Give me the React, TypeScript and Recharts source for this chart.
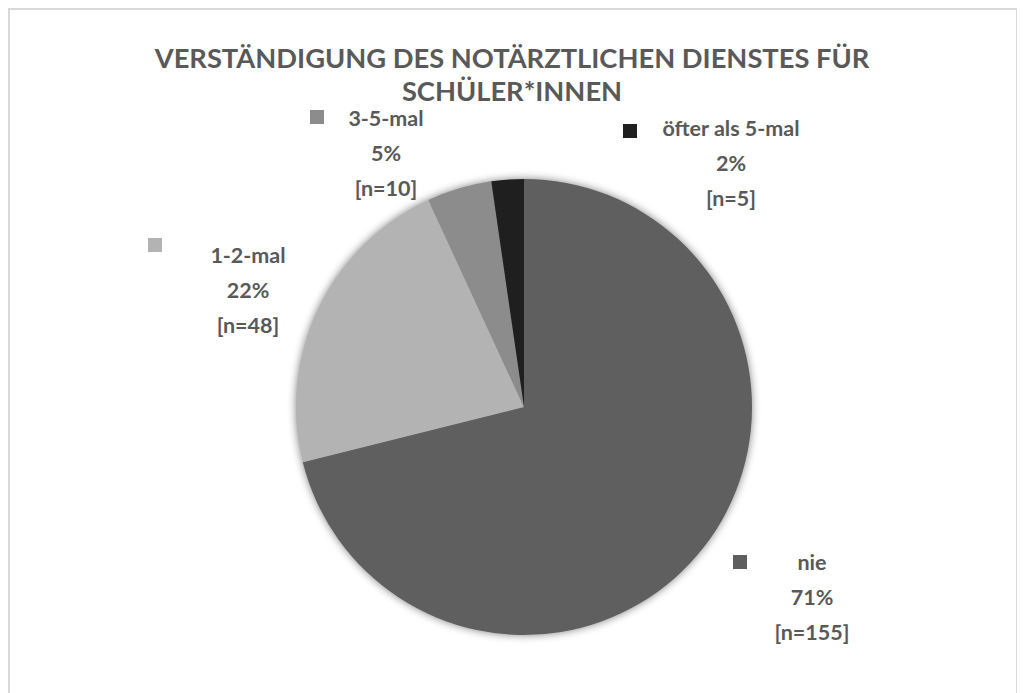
import React from "react";
import { PieChart, Pie, Cell } from "recharts";

const categories = ["nie", "1-2-mal", "3-5-mal", "öfter als 5-mal"];
const counts = [155, 48, 10, 5];
const percents = ["71%", "22%", "5%", "2%"];
const colors = ["#5f5f5f", "#b3b3b3", "#8c8c8c", "#1f1f1f"];
const titleLines = ["VERSTÄNDIGUNG DES NOTÄRZTLICHEN DIENSTES FÜR", "SCHÜLER*INNEN"];

const data = categories.map((name, i) => ({ name, value: counts[i], pct: percents[i] }));
const backing = [{ name: "all", value: counts.reduce((a, b) => a + b, 0) }];

// label layout (first-line centre relative to pie centre, legend key relative to first line)
const labelLayout = [
  { dx: 288, dy: 155, kx: -72, ky: 0 },
  { dx: -276, dy: -152, kx: -93, ky: -10 },
  { dx: -138, dy: -289, kx: -69, ky: -1 },
  { dx: 207, dy: -279, kx: -101, ky: 3 },
];

const W = 1010;
const H = 700;
const FONT = "Lato, 'Open Sans', sans-serif";
const TXT = "#595959";

const renderLabel = (props: any) => {
  const { cx, cy, index } = props;
  const o = labelLayout[index];
  const x = cx + o.dx;
  const y = cy + o.dy;
  const d = data[index];
  const lh = 35;
  return (
    <g key={"lbl" + index}>
      <rect x={x + o.kx - 7} y={y + o.ky - 7} width={14} height={14} fill={colors[index]} />
      <text x={x} y={y} textAnchor="middle" fontFamily={FONT} fontWeight={700} fontSize={21.5} fill={TXT}>
        <tspan x={x} dy={7.5}>{d.name}</tspan>
        <tspan x={x} dy={lh}>{d.pct}</tspan>
        <tspan x={x} dy={lh}>{`[n=${d.value}]`}</tspan>
      </text>
    </g>
  );
};

export default function App() {
  const cw = W - 4;
  return (
    <div style={{ width: W, height: H, border: "2px solid #d9d9d9", boxSizing: "border-box", position: "relative", background: "#fff" }}>
      <div style={{ position: "absolute", left: 0, top: 0 }}>
        <PieChart width={cw} height={H - 4} margin={{ top: 0, right: 0, bottom: 0, left: 0 }}>
          <defs>
            <filter id="glow" x="-20%" y="-20%" width="140%" height="140%">
              <feGaussianBlur in="SourceAlpha" stdDeviation="4" />
              <feComponentTransfer>
                <feFuncA type="linear" slope="0.5" />
              </feComponentTransfer>
            </filter>
          </defs>
          <text x={cw / 2 - 1} y={48} textAnchor="middle" fontFamily={FONT} fontWeight={700} fontSize={27.3} fill={TXT}>
            <tspan x={cw / 2 - 1} dy={9.5}>{titleLines[0]}</tspan>
            <tspan x={cw / 2 - 1} dy={33}>{titleLines[1]}</tspan>
          </text>
          <Pie
            data={backing}
            dataKey="value"
            cx={514}
            cy={397}
            outerRadius={228}
            startAngle={90}
            endAngle={-270}
            stroke="none"
            fill="#000"
            isAnimationActive={false}
            label={false}
            labelLine={false}
          >
            <Cell fill="#000" filter="url(#glow)" />
          </Pie>
          <Pie
            data={data}
            dataKey="value"
            nameKey="name"
            cx={514}
            cy={397}
            outerRadius={228}
            startAngle={90}
            endAngle={-270}
            stroke="none"
            isAnimationActive={false}
            label={renderLabel}
            labelLine={false}
          >
            {data.map((d, i) => (
              <Cell key={d.name} fill={colors[i]} />
            ))}
          </Pie>
        </PieChart>
      </div>
    </div>
  );
}
